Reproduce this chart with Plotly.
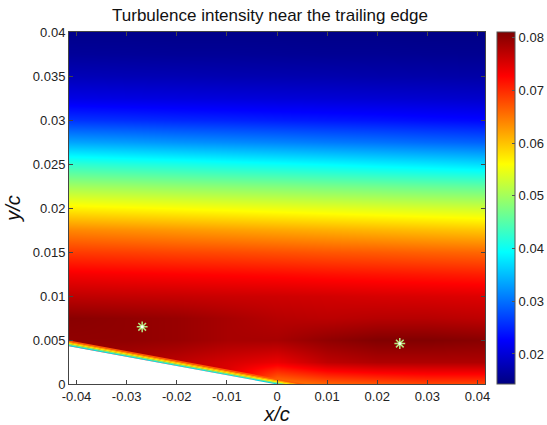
import plotly.graph_objects as go

# ---- data ----
x_grid = [-0.042, -0.03, -0.02, -0.01, 0.0, 0.01, 0.02, 0.03, 0.042]
y_grid = [0.0, 0.0025, 0.005, 0.0075, 0.01, 0.0125, 0.015, 0.0175, 0.02,
          0.0225, 0.025, 0.0275, 0.03, 0.0325, 0.035, 0.0375, 0.04]
ti_y000 = [0.0780, 0.0780, 0.0770, 0.0740, 0.0640, 0.0660, 0.0670, 0.0680, 0.0680]
ti_y0025 = [0.0785, 0.0780, 0.0770, 0.0755, 0.0740, 0.0770, 0.0780, 0.0780, 0.0780]
ti_y005 = [0.0800, 0.0800, 0.0795, 0.0785, 0.0785, 0.0800, 0.0810, 0.0810, 0.0805]
ti_y0075 = [0.0805, 0.0800, 0.0795, 0.0785, 0.0775, 0.0772, 0.0775, 0.0775, 0.0770]
ti_y010 = [0.0770, 0.0767, 0.0765, 0.0762, 0.0760, 0.0757, 0.0754, 0.0752, 0.0749]
ti_y0125 = [0.0735, 0.0731, 0.0728, 0.0725, 0.0722, 0.0718, 0.0715, 0.0712, 0.0708]
ti_y015 = [0.0690, 0.0686, 0.0682, 0.0679, 0.0675, 0.0671, 0.0668, 0.0664, 0.0660]
ti_y0175 = [0.0640, 0.0634, 0.0629, 0.0624, 0.0619, 0.0614, 0.0609, 0.0604, 0.0598]
ti_y020 = [0.0570, 0.0564, 0.0559, 0.0554, 0.0549, 0.0544, 0.0539, 0.0534, 0.0528]
ti_y0225 = [0.0500, 0.0494, 0.0488, 0.0483, 0.0478, 0.0472, 0.0467, 0.0461, 0.0455]
ti_y025 = [0.0425, 0.0417, 0.0411, 0.0404, 0.0398, 0.0392, 0.0385, 0.0379, 0.0371]
ti_y0275 = [0.0335, 0.0329, 0.0323, 0.0318, 0.0313, 0.0307, 0.0302, 0.0296, 0.0290]
ti_y030 = [0.0260, 0.0256, 0.0252, 0.0249, 0.0245, 0.0241, 0.0238, 0.0234, 0.0230]
ti_y0325 = [0.0210, 0.0207, 0.0205, 0.0203, 0.0201, 0.0199, 0.0197, 0.0195, 0.0192]
ti_y035 = [0.0180, 0.0178, 0.0177, 0.0175, 0.0174, 0.0173, 0.0171, 0.0170, 0.0168]
ti_y0375 = [0.0160, 0.0159, 0.0158, 0.0158, 0.0157, 0.0156, 0.0156, 0.0155, 0.0154]
ti_y040 = [0.0150, 0.0150, 0.0149, 0.0149, 0.0149, 0.0148, 0.0148, 0.0147, 0.0147]

# trailing-edge surface (airfoil wall)
wall_x = [-0.0415, -0.0005]
wall_y = [0.0043, 0.0]
# marked points
peak_x = [-0.0269, 0.0245]
peak_y = [0.0065, 0.0046]

x_ticks = [-0.04, -0.03, -0.02, -0.01, 0, 0.01, 0.02, 0.03, 0.04]
y_ticks = [0, 0.005, 0.01, 0.015, 0.02, 0.025, 0.03, 0.035, 0.04]
cb_ticks = [0.02, 0.03, 0.04, 0.05, 0.06, 0.07, 0.08]
c_min, c_max = 0.0143, 0.0811

z = [ti_y000, ti_y0025, ti_y005, ti_y0075, ti_y010, ti_y0125, ti_y015, ti_y0175,
     ti_y020, ti_y0225, ti_y025, ti_y0275, ti_y030, ti_y0325, ti_y035, ti_y0375, ti_y040]

jet = [[0, 'rgb(0,0,128)'], [0.125, 'rgb(0,0,255)'], [0.375, 'rgb(0,255,255)'],
       [0.625, 'rgb(255,255,0)'], [0.875, 'rgb(255,0,0)'], [1, 'rgb(128,0,0)']]

W, H = 547, 425
ml, mt = 69, 32
mr = W - 485
mb = H - 384
xr = [-0.0415, 0.0415]
yr = [0.0, 0.04]
px_y = (yr[1] - yr[0]) / (H - mt - mb)
plot_w = W - ml - mr

fig = go.Figure()
fig.add_trace(go.Heatmap(
    x=x_grid, y=y_grid, z=z, zsmooth='best', colorscale=jet,
    zmin=c_min, zmax=c_max,
    colorbar=dict(
        x=1 + (497 - 485) / plot_w, xanchor='left', xpad=0, ypad=0,
        thickness=18, len=1, lenmode='fraction', y=0.5, yanchor='middle',
        outlinewidth=1, outlinecolor='#555',
        tickvals=cb_ticks, ticktext=[f"{v:g}" for v in cb_ticks],
        ticks='inside', ticklen=3, tickcolor='#555',
        tickfont=dict(size=13, color='#222')),
    hoverinfo='skip'))

# boundary-layer band along the wall
slope = (wall_y[1] - wall_y[0]) / (wall_x[1] - wall_x[0])
band_colors = ['rgb(0,215,235)', 'rgb(120,235,130)', 'rgb(255,235,0)',
               'rgb(255,170,0)', 'rgb(255,90,0)']
band_offsets = [0.6, 1.7, 2.8, 3.9, 5.0]
for col, off in zip(band_colors, band_offsets):
    dy = off * px_y
    x0 = wall_x[0] - 0.002
    y0 = wall_y[0] + slope * (x0 - wall_x[0]) + dy
    x1 = wall_x[1] + (dy + 0.0003) / (-slope)
    y1 = wall_y[1] + slope * (x1 - wall_x[1]) + dy
    fig.add_trace(go.Scatter(x=[x0, x1], y=[y0, y1], mode='lines',
                             line=dict(color=col, width=1.5),
                             showlegend=False, hoverinfo='skip'))

# white body below the wall
xe = wall_x[0] - 0.002
ye = wall_y[0] + slope * (xe - wall_x[0])
fig.add_trace(go.Scatter(x=[xe, wall_x[1], wall_x[1], xe, xe],
                         y=[ye, wall_y[1], -0.001, -0.001, ye],
                         mode='lines', fill='toself', fillcolor='white',
                         line=dict(color='white', width=0),
                         showlegend=False, hoverinfo='skip'))

fig.add_trace(go.Scatter(x=peak_x, y=peak_y, mode='markers',
                         marker=dict(symbol='asterisk-open', size=9,
                                     line=dict(color='white', width=1.5)),
                         showlegend=False, hoverinfo='skip'))
fig.add_trace(go.Scatter(x=peak_x, y=peak_y, mode='markers',
                         marker=dict(symbol='circle', size=3, color='white',
                                     line=dict(width=0)),
                         showlegend=False, hoverinfo='skip'))

axis_common = dict(showline=True, mirror='ticks', linecolor='#444', linewidth=1,
                   ticks='inside', ticklen=4, tickcolor='#444', showgrid=False,
                   zeroline=False, tickfont=dict(size=13, color='#222'))

fig.update_layout(
    width=W, height=H,
    margin=dict(l=ml, r=mr, t=mt, b=mb, autoexpand=False),
    paper_bgcolor='white', plot_bgcolor='white',
    font=dict(family='Liberation Sans, Arial, sans-serif', color='#111'),
    title=dict(text='Turbulence intensity near the trailing edge',
               x=270 / W, xanchor='center',
               y=1 - 15 / H, yanchor='middle', font=dict(size=17, color='#111')),
    xaxis=dict(range=xr, tickvals=x_ticks, ticktext=[f"{v:g}" for v in x_ticks],
               title=dict(text='<i>x/c</i>', font=dict(size=20), standoff=10),
               **axis_common),
    yaxis=dict(range=yr, tickvals=y_ticks, ticktext=[f"{v:g}" for v in y_ticks],
               title=dict(text='<i>y/c</i>', font=dict(size=20), standoff=6),
               **axis_common),
)

fig.write_html("out.html", config={'displayModeBar': False},
               post_script="document.body.style.margin='0';"
                           "document.body.style.overflow='hidden';")
